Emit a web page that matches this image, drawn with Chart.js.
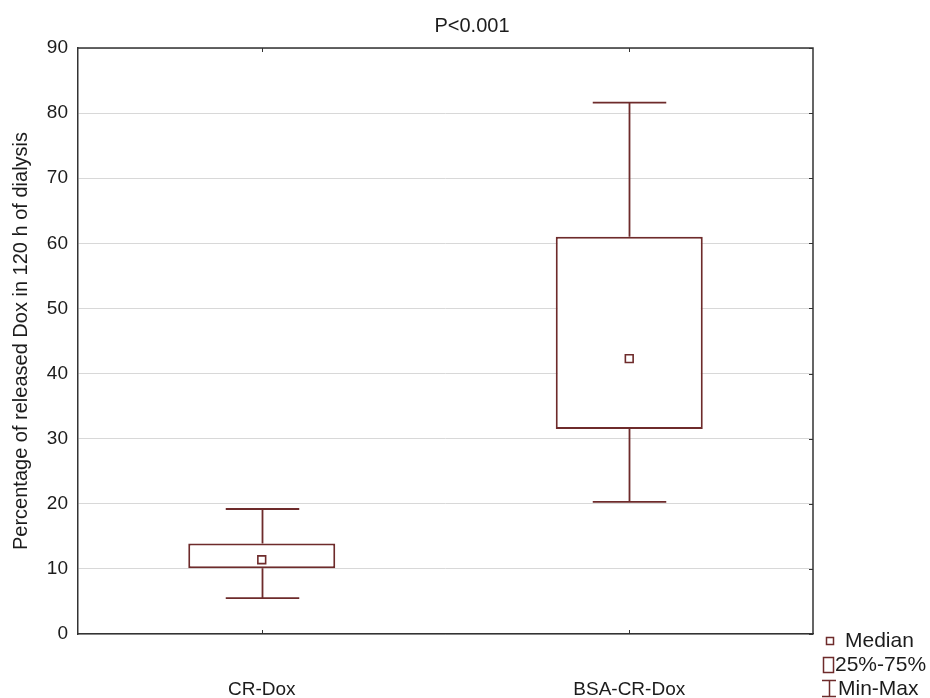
<!DOCTYPE html>
<html>
<head>
<meta charset="utf-8">
<script src="https://cdn.jsdelivr.net/npm/chart.js@4.4.1/dist/chart.umd.min.js"></script>
<style>
  html, body { margin: 0; padding: 0; background: #fff; }
  canvas { display: block; }
</style>
</head>
<body>
<canvas id="box-chart" width="930" height="698"></canvas>
<script>
// ─── Data ─────────────────────────────────────────────

const groups  = ['CR-Dox', 'BSA-CR-Dox'];
const minVals = [5.5, 20.3];
const q1Vals  = [10.1, 31.5];
const medians = [11.4, 42.3];
const q3Vals  = [13.9, 61.0];
const maxVals = [19.2, 81.6];

const yTicks  = [0, 10, 20, 30, 40, 50, 60, 70, 80, 90];

const pValue  = 'P<0.001';
const yTitle  = 'Percentage of released Dox in 120 h of dialysis';
const legendItems = ['Median', '25%-75%', 'Min-Max'];

// ─── Style ────────────────────────────────────────────

const BOX_COLOR  = '#6e2b2b';
const TEXT_COLOR = '#1c1c1c';
const FRAME      = '#333';
const FONT       = "'Liberation Sans', Arial, sans-serif";

// ─── Plugins ──────────────────────────────────────────

// min–max whiskers with caps, drawn under the boxes
const whiskers = {
    id: 'whiskers',
    beforeDatasetsDraw(chart) {
        const { ctx, scales: { x, y } } = chart;
        const capHalf = (x.getPixelForValue(1) - x.getPixelForValue(0)) * 0.1;
        ctx.save();
        ctx.strokeStyle = BOX_COLOR;
        ctx.lineWidth = 1.8;
        groups.forEach((g, i) => {
            const cx = Math.round(x.getPixelForValue(i)) + 0.5;
            const yMin = y.getPixelForValue(minVals[i]);
            const yMax = y.getPixelForValue(maxVals[i]);
            ctx.beginPath();
            ctx.moveTo(cx, yMax);
            ctx.lineTo(cx, y.getPixelForValue(q3Vals[i]));
            ctx.moveTo(cx, y.getPixelForValue(q1Vals[i]));
            ctx.lineTo(cx, yMin);
            ctx.moveTo(cx - capHalf, yMax);
            ctx.lineTo(cx + capHalf, yMax);
            ctx.moveTo(cx - capHalf, yMin);
            ctx.lineTo(cx + capHalf, yMin);
            ctx.stroke();
        });
        ctx.restore();
    },
};

// closed frame, inward ticks and the P value above the plot
const frame = {
    id: 'frame',
    afterDraw(chart) {
        const { ctx, chartArea: a, scales: { x, y } } = chart;
        ctx.save();
        ctx.strokeStyle = FRAME;
        ctx.lineWidth = 1.5;
        ctx.beginPath();
        ctx.moveTo(a.left, a.top);
        ctx.lineTo(a.right, a.top);
        ctx.lineTo(a.right, a.bottom);
        ctx.stroke();

        ctx.lineWidth = 1;
        ctx.beginPath();
        yTicks.forEach(v => {
            const py = Math.round(y.getPixelForValue(v)) + 0.5;
            ctx.moveTo(a.right - 4, py);
            ctx.lineTo(a.right, py);
        });
        groups.forEach((g, i) => {
            const px = Math.round(x.getPixelForValue(i)) + 0.5;
            ctx.moveTo(px, a.top);
            ctx.lineTo(px, a.top + 4);
            ctx.moveTo(px, a.bottom);
            ctx.lineTo(px, a.bottom - 4);
        });
        ctx.stroke();

        ctx.fillStyle = TEXT_COLOR;
        ctx.font = `20px ${FONT}`;
        ctx.textAlign = 'center';
        ctx.textBaseline = 'middle';
        ctx.fillText(pValue, 472, 26);
        ctx.restore();
    },
};

// key in the bottom-right corner: median, quartile box, range
const boxLegend = {
    id: 'boxLegend',
    afterDraw(chart) {
        const { ctx } = chart;
        ctx.save();
        ctx.strokeStyle = BOX_COLOR;
        ctx.lineWidth = 1.5;

        ctx.strokeRect(826.5, 637.5, 7, 7);
        ctx.strokeRect(823.5, 657.5, 10, 15);
        ctx.beginPath();
        ctx.moveTo(822, 680.5); ctx.lineTo(836, 680.5);
        ctx.moveTo(829.5, 680.5); ctx.lineTo(829.5, 696.5);
        ctx.moveTo(822, 696.5); ctx.lineTo(836, 696.5);
        ctx.stroke();

        ctx.fillStyle = TEXT_COLOR;
        ctx.font = `21px ${FONT}`;
        ctx.textAlign = 'left';
        ctx.textBaseline = 'middle';
        ctx.fillText(legendItems[0], 845, 641);
        ctx.fillText(legendItems[1], 835, 665);
        ctx.fillText(legendItems[2], 838, 689);
        ctx.restore();
    },
};

// ─── Chart ────────────────────────────────────────────

new Chart(document.getElementById('box-chart'), {
    type: 'bar',
    data: {
        labels: groups,
        datasets: [
            {
                type: 'bar',
                data: groups.map((g, i) => [q1Vals[i], q3Vals[i]]),
                backgroundColor: '#fff',
                borderColor: BOX_COLOR,
                borderWidth: 2,
                borderSkipped: false,
                barPercentage: 0.4,
                categoryPercentage: 1,
                order: 2,
            },
            {
                type: 'line',
                data: medians,
                showLine: false,
                pointStyle: 'rect',
                pointRadius: 5.5,
                pointBorderWidth: 1.6,
                pointBorderColor: BOX_COLOR,
                pointBackgroundColor: '#fff',
                order: 1,
            },
        ],
    },
    options: {
        responsive: false,
        animation: false,
        layout: { padding: { top: 48, right: 117, left: 0, bottom: 0 } },
        plugins: {
            legend: { display: false },
            tooltip: { enabled: false },
            title: { display: false },
        },
        scales: {
            x: {
                offset: true,
                grid: { display: false, drawTicks: false },
                border: { display: true, color: FRAME, width: 1.5 },
                ticks: { font: { family: FONT, size: 19 }, color: TEXT_COLOR, padding: 44 },
                afterFit: scale => { scale.height = 64; },
            },
            y: {
                min: 0,
                max: 90,
                afterBuildTicks: scale => { scale.ticks = yTicks.map(v => ({ value: v })); },
                grid: { color: '#d8d8d8', lineWidth: 1, drawTicks: false },
                border: { display: true, color: FRAME, width: 1.5 },
                ticks: { font: { family: FONT, size: 19 }, color: TEXT_COLOR, padding: 10 },
                title: {
                    display: true,
                    text: yTitle,
                    font: { family: FONT, size: 20 },
                    color: TEXT_COLOR,
                    padding: { top: 9, bottom: 0 },
                },
                afterFit: scale => { scale.width = 78; },
            },
        },
    },
    plugins: [whiskers, frame, boxLegend],
});
</script>
</body>
</html>
